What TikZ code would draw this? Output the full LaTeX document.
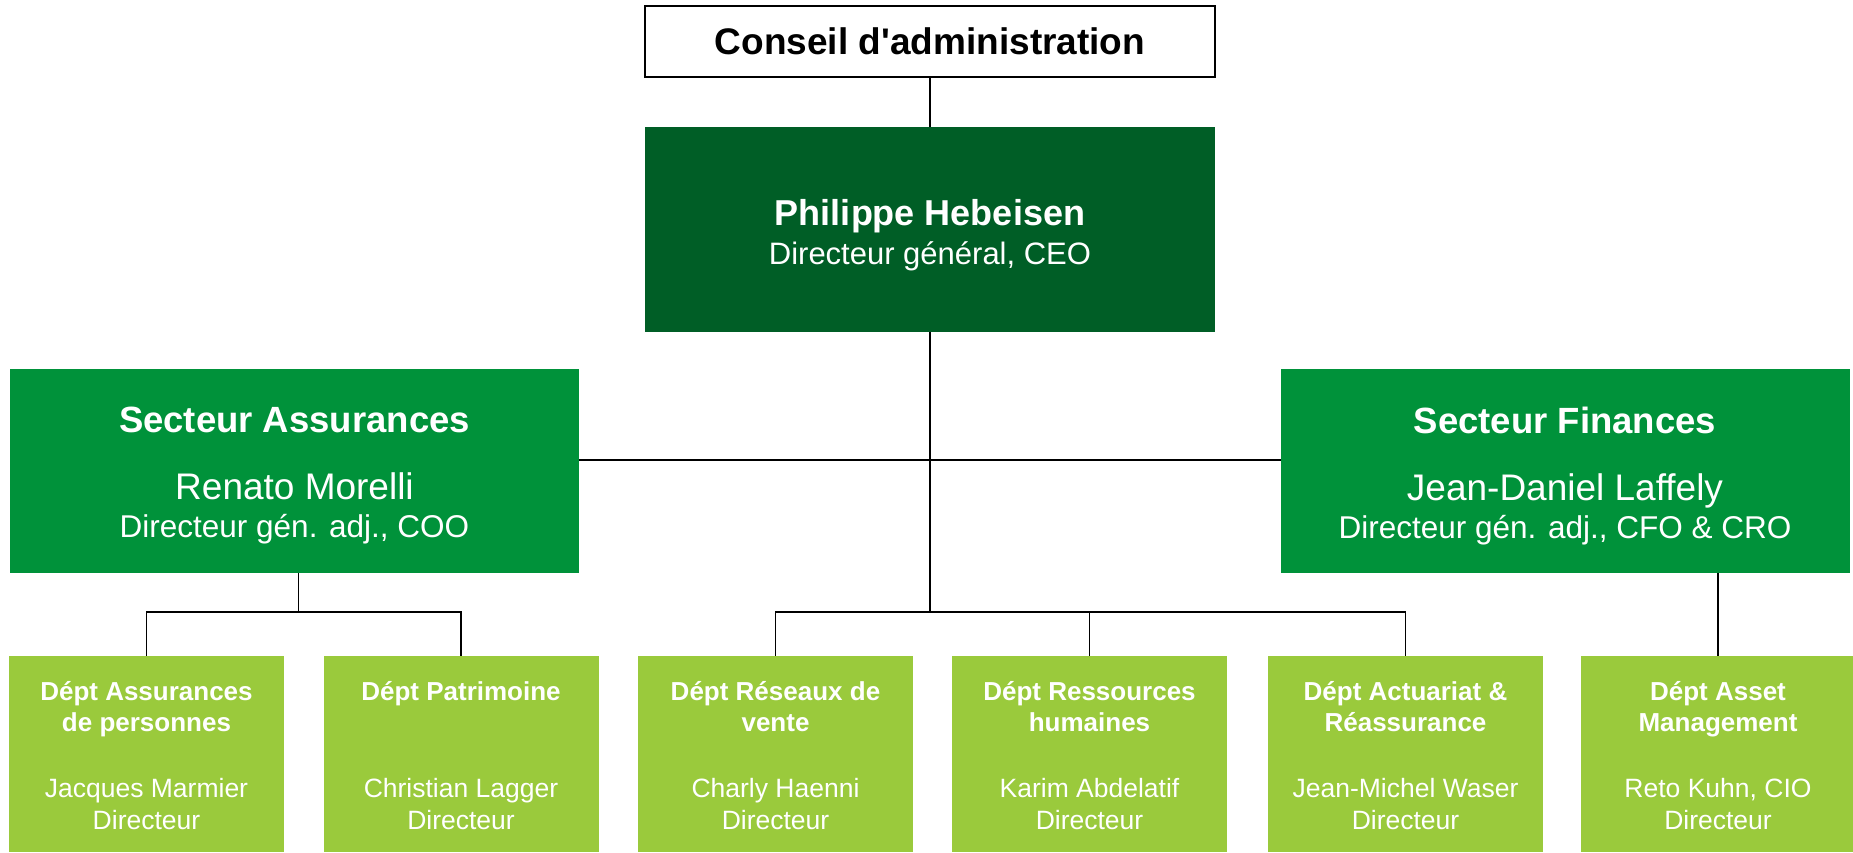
\documentclass[tikz,border=0pt]{standalone}
\usepackage{fontspec}
\setmainfont{Liberation Sans}[Ligatures=TeXOff]
\usetikzlibrary{positioning}
\definecolor{ceogreen}{RGB}{0,94,38}
\definecolor{sectgreen}{RGB}{0,146,58}
\definecolor{deptgreen}{RGB}{154,202,60}

\begin{document}
\begin{tikzpicture}[x=1pt,y=1pt,line width=1.6pt,
  box/.style={rectangle,inner sep=0pt,outer sep=0pt},
  board/.style={box,draw=black,fill=white,minimum width=570pt,minimum height=71pt,font=\bfseries\fontsize{37}{40}\selectfont},
  ceobox/.style={box,fill=ceogreen,minimum width=570pt,minimum height=205pt},
  sectbox/.style={box,fill=sectgreen,minimum width=569pt,minimum height=204pt},
  deptbox/.style={box,fill=deptgreen,minimum width=275pt,minimum height=196pt},
  txt/.style={inner sep=0pt,text=white,align=center},
  ceotext/.style={txt,anchor=north,font=\fontsize{31}{39}\selectfont},
  secttext/.style={txt,anchor=north,font=\fontsize{31.5}{38}\selectfont},
  depttitle/.style={txt,anchor=north,font=\bfseries\fontsize{26}{31}\selectfont},
  deptname/.style={txt,anchor=south,font=\fontsize{26.5}{32}\selectfont}]
  \path[use as bounding box] (0,0) rectangle (1853,852);

  % top
  \node[board]  (board) at (930,810.5) {Conseil d'administration};
  \node[ceobox] (ceo)   at (930,622.5) {};
  \node[ceotext] (ceo-t) at ([yshift=-72pt]ceo.north) {{\bfseries\fontsize{36}{39}\selectfont Philippe Hebeisen}\\Directeur général, CEO};

  % sectors
  \node[sectbox] (assur) at (294.5,381) {};
  \node[secttext] (assur-t) at ([yshift=-37pt]assur.north) {{\bfseries\fontsize{36.5}{38}\selectfont Secteur Assurances}\\[29.7pt]{\fontsize{37}{38}\selectfont Renato Morelli}\\Directeur gén. adj., COO};
  \node[sectbox] (fin) at (1565,381) {};
  \node[secttext] (fin-t) at ([yshift=-37pt]fin.north) {{\bfseries\fontsize{36.5}{38}\selectfont Secteur Finances}\\[29.7pt]{\fontsize{37}{38}\selectfont Jean-Daniel Laffely}\\Directeur gén. adj., CFO \& CRO};

  % departments
  \node[deptbox] (d1) at (146.5,98) {};
  \node[deptbox] (d2) at (461,98) {};
  \node[deptbox] (d3) at (775.5,98) {};
  \node[deptbox] (d4) at (1089.5,98) {};
  \node[deptbox] (d5) at (1405.5,98) {};
  \node[deptbox] (d6) at (1718,98) {};
  \node[depttitle] (d1-t) at ([yshift=-25pt]d1.north) {Dépt Assurances\\de personnes};
  \node[deptname]  (d1-n) at ([yshift=21.5pt]d1.south) {Jacques Marmier\\Directeur};
  \node[depttitle] (d2-t) at ([yshift=-25pt]d2.north) {Dépt Patrimoine};
  \node[deptname]  (d2-n) at ([yshift=21.5pt]d2.south) {Christian Lagger\\Directeur};
  \node[depttitle] (d3-t) at ([yshift=-25pt]d3.north) {Dépt Réseaux de\\vente};
  \node[deptname]  (d3-n) at ([yshift=21.5pt]d3.south) {Charly Haenni\\Directeur};
  \node[depttitle] (d4-t) at ([yshift=-25pt]d4.north) {Dépt Ressources\\humaines};
  \node[deptname]  (d4-n) at ([yshift=21.5pt]d4.south) {Karim Abdelatif\\Directeur};
  \node[depttitle] (d5-t) at ([yshift=-25pt]d5.north) {Dépt Actuariat \&\\Réassurance};
  \node[deptname]  (d5-n) at ([yshift=21.5pt]d5.south) {Jean-Michel Waser\\Directeur};
  \node[depttitle] (d6-t) at ([yshift=-25pt]d6.north) {Dépt Asset\\Management};
  \node[deptname]  (d6-n) at ([yshift=21.5pt]d6.south) {Reto Kuhn, CIO\\Directeur};

  % connectors
  \coordinate (hub)    at (930,392);
  \coordinate (midbar) at (930,240);
  \coordinate (leftbar) at ([xshift=4pt]assur.south |- midbar);
  \draw (board.south) -- (ceo.north);
  \draw (assur.east |- hub) -- (fin.west |- hub);
  \draw (ceo.south) -- (midbar);
  \draw (d3.north) |- (midbar) -| (d5.north);
  \draw (d4.north) -- (d4.north |- midbar);
  \draw (assur.south -| leftbar) -- (leftbar);
  \draw (d1.north) |- (leftbar) -| (d2.north);
  \draw (fin.south -| d6.north) -- (d6.north);
\end{tikzpicture}
\end{document}
